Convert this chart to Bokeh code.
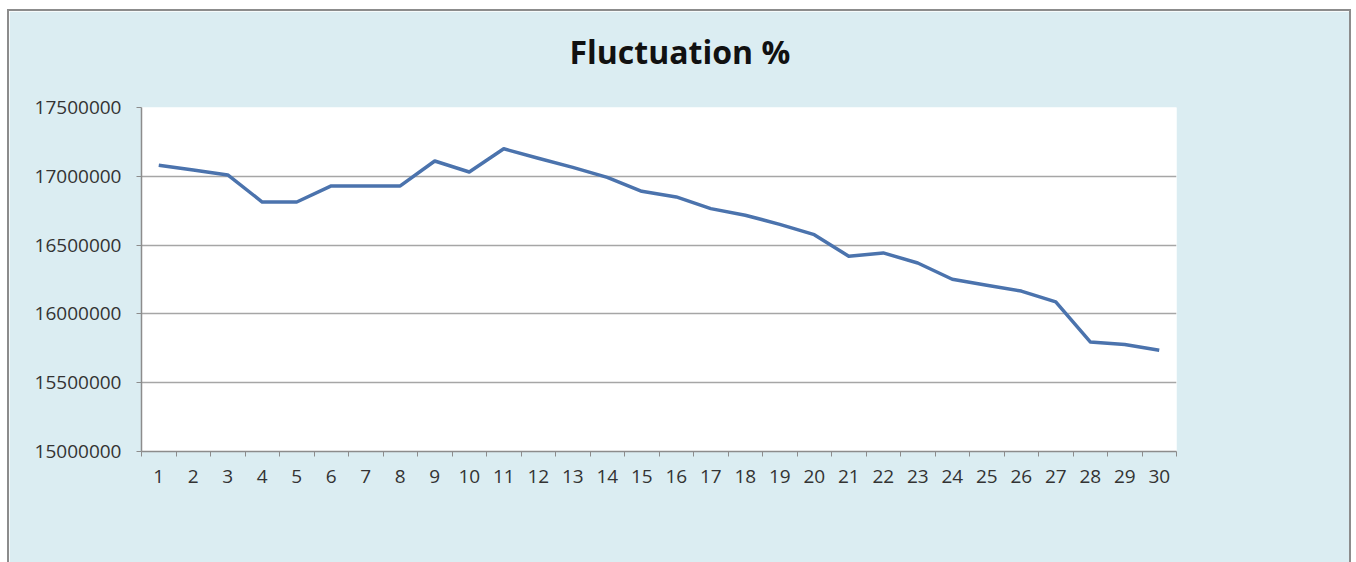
from bokeh.plotting import figure
from bokeh.models import Range1d, FixedTicker, Title
from bokeh.embed import file_html
from bokeh.resources import INLINE

# Day index and the tracked value for each day
days = list(range(1, 31))
values = [
    17080000, 17045000, 17010000, 16813000, 16813000, 16930000, 16930000, 16930000,
    17111000, 17031000, 17200000, 17131000, 17065000, 16992000, 16891000, 16850000,
    16765000, 16717000, 16651000, 16576000, 16419000, 16443000, 16370000, 16252000,
    16208000, 16166000, 16087000, 15796000, 15777000, 15736000,
]
y_ticks = [15000000, 15500000, 16000000, 16500000, 17000000, 17500000]
x_labels = [str(d) for d in days]
chart_title = "Fluctuation %"

PANEL = "#dbedf2"
TEXT = "#333333"
GRID = "#a6a6a6"
AXIS = "#8c8c8c"

p = figure(
    frame_width=1035, frame_height=344,
    min_border_left=132, min_border_right=173,
    min_border_top=96, min_border_bottom=111,
    x_range=Range1d(0.5, 30.5), y_range=Range1d(y_ticks[0], y_ticks[-1]),
    output_backend="svg", toolbar_location=None,
    background_fill_color="white", border_fill_color=PANEL,
    outline_line_color=None,
    margin=(9, 0, 0, 7),
    styles={"border": "2px solid #8c8c8c", "border-bottom": "none"},
)

# blank gap between the plot area and the title
gap = Title(text=" ", text_font_size="1px", standoff=32)
p.add_layout(gap, "above")

title = Title(
    text=chart_title, align="left", text_font="Open Sans",
    text_font_size="32px", text_font_style="bold", text_color="#111111",
    offset=428, standoff=0,
)
p.add_layout(title, "above")

p.line(days, values, line_color="#4b73ad", line_width=3.5, line_join="round")

# x axis: labels at the day centres, tick marks at the boundaries
p.xaxis.ticker = FixedTicker(ticks=days, minor_ticks=[d - 0.5 for d in days] + [30.5])
p.xaxis.major_label_overrides = {d: lab for d, lab in zip(days, x_labels)}
p.xaxis.major_tick_line_color = None
p.xaxis.minor_tick_in = 0
p.xaxis.minor_tick_out = 5
p.xaxis.minor_tick_line_color = AXIS
p.xaxis.axis_line_color = AXIS
p.xaxis.axis_line_width = 1.5
p.xaxis.major_label_standoff = 12
p.xaxis.major_label_text_font = "Open Sans"
p.xaxis.major_label_text_font_size = "19px"
p.xaxis.major_label_text_color = TEXT

p.yaxis.ticker = FixedTicker(ticks=y_ticks)
p.yaxis.major_label_overrides = {t: str(t) for t in y_ticks}
p.yaxis.minor_tick_line_color = None
p.yaxis.major_tick_in = 0
p.yaxis.major_tick_out = 5
p.yaxis.major_tick_line_color = AXIS
p.yaxis.axis_line_color = AXIS
p.yaxis.axis_line_width = 1.5
p.yaxis.major_label_standoff = 15
p.yaxis.major_label_text_font = "Open Sans"
p.yaxis.major_label_text_font_size = "19px"
p.yaxis.major_label_text_color = TEXT

p.xgrid.grid_line_color = None
p.ygrid.grid_line_color = GRID
p.ygrid.grid_line_width = 1.5

open("out.html", "w").write(file_html(p, INLINE))
